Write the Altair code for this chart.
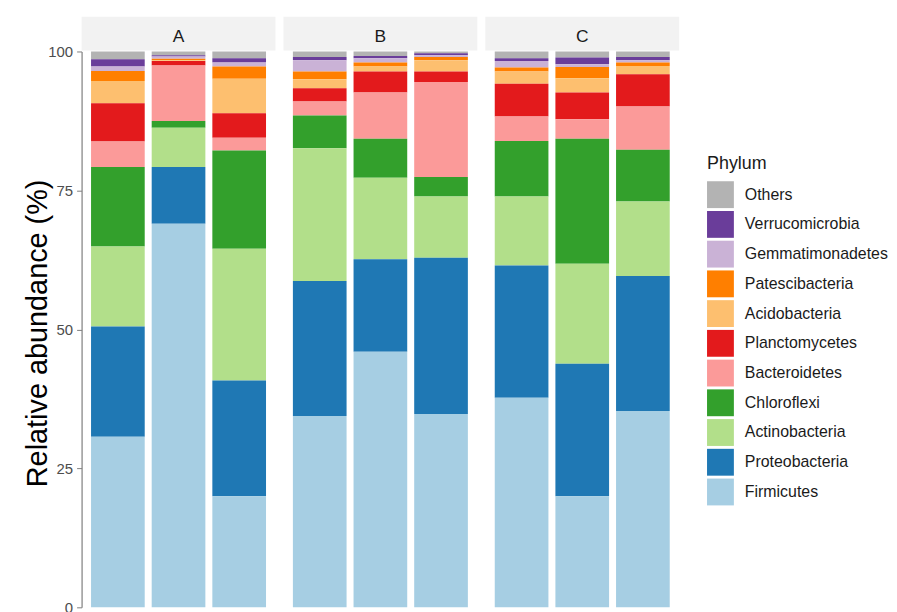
import altair as alt
import pandas as pd

groups = ["A", "A", "A", "B", "B", "B", "C", "C", "C"]
samples = ["1", "2", "3", "1", "2", "3", "1", "2", "3"]

phyla = ["Others", "Verrucomicrobia", "Gemmatimonadetes", "Patescibacteria",
         "Acidobacteria", "Planctomycetes", "Bacteroidetes", "Chloroflexi",
         "Actinobacteria", "Proteobacteria", "Firmicutes"]
colors = ["#B3B3B3", "#6A3D9A", "#CAB2D6", "#FF7F00", "#FDBF6F", "#E31A1C",
          "#FB9A99", "#33A02C", "#B2DF8A", "#1F78B4", "#A6CEE3"]

firmicutes       = [30.7, 69.0, 20.0, 34.4, 46.0, 34.8, 37.7, 20.0, 35.3]
proteobacteria   = [19.8, 10.2, 20.8, 24.3, 16.6, 28.1, 23.8, 23.8, 24.3]
actinobacteria   = [14.4,  7.1, 23.7, 23.9, 14.7, 11.0, 12.4, 18.0, 13.4]
chloroflexi      = [14.3,  1.2, 17.7,  5.9,  7.0,  3.5, 10.0, 22.5,  9.3]
bacteroidetes    = [ 4.6, 10.0,  2.3,  2.5,  8.3, 17.1,  4.4,  3.5,  7.8]
planctomycetes   = [ 6.9,  0.8,  4.4,  2.4,  3.8,  1.9,  5.9,  4.8,  5.8]
acidobacteria    = [ 4.0,  0.1,  6.2,  1.6,  0.9,  2.0,  2.2,  2.6,  1.5]
patescibacteria  = [ 1.8,  0.3,  2.2,  1.4,  0.7,  0.6,  0.7,  2.0,  0.6]
gemmatimonadetes = [ 0.8,  0.4,  0.7,  2.0,  0.8,  0.3,  1.2,  0.5,  0.4]
verrucomicrobia  = [ 1.3,  0.2,  0.8,  0.6,  0.4,  0.4,  0.5,  1.2,  0.6]
others           = [ 1.4,  0.7,  1.2,  1.0,  0.8,  0.3,  1.2,  1.1,  1.0]

series = {
    "Others": others,
    "Verrucomicrobia": verrucomicrobia,
    "Gemmatimonadetes": gemmatimonadetes,
    "Patescibacteria": patescibacteria,
    "Acidobacteria": acidobacteria,
    "Planctomycetes": planctomycetes,
    "Bacteroidetes": bacteroidetes,
    "Chloroflexi": chloroflexi,
    "Actinobacteria": actinobacteria,
    "Proteobacteria": proteobacteria,
    "Firmicutes": firmicutes,
}

rows = []
for k, name in enumerate(phyla):
    for i in range(len(groups)):
        rows.append({
            "group": groups[i],
            "sample": samples[i],
            "phylum": name,
            "abundance": series[name][i],
            "stack_rank": len(phyla) - 1 - k,
        })
df = pd.DataFrame(rows)

FONT = "Liberation Sans"
PW = 195
PH = 559

bars = alt.Chart().mark_bar().encode(
    x=alt.X("sample:N", axis=None,
            scale=alt.Scale(paddingInner=0.115, paddingOuter=0.156)),
    y=alt.Y("abundance:Q", stack="zero",
            scale=alt.Scale(domain=[0, 100], nice=False),
            axis=alt.Axis(values=[0, 25, 50, 75, 100], grid=False,
                          title="Relative abundance (%)",
                          titleFontSize=29, titleFontWeight="normal",
                          titleColor="#000000", titleFont=FONT,
                          titleX=-35, titleY=283, titleBaseline="alphabetic",
                          titleAlign="center", titleAngle=270,
                          labelFont=FONT, labelFontSize=15,
                          labelColor="#4D4D4D", labelPadding=4,
                          tickSize=5, tickColor="#7F7F7F",
                          domainColor="#7F7F7F", domainWidth=1.2)),
    color=alt.Color("phylum:N",
                    scale=alt.Scale(domain=phyla, range=colors),
                    legend=alt.Legend(title="Phylum", orient="none",
                                      legendX=629, legendY=104,
                                      symbolType="square", symbolSize=729,
                                      symbolStrokeWidth=0, symbolOpacity=1,
                                      rowPadding=2.9, labelOffset=11,
                                      titleFont=FONT, titleFontSize=18,
                                      titleFontWeight="normal",
                                      titleColor="#1A1A1A", titlePadding=8.5,
                                      labelFont=FONT, labelFontSize=16,
                                      labelColor="#1A1A1A", labelLimit=300,
                                      padding=0)),
    order=alt.Order("stack_rank:Q", sort="ascending"),
)

strip = alt.Chart().transform_aggregate(
    n="count()", groupby=["group"]
).mark_rect(color="#F2F2F2").encode(
    x=alt.value(0), x2=alt.value(PW),
    y=alt.value(-35), y2=alt.value(-1),
)

label = alt.Chart().transform_aggregate(
    n="count()", groupby=["group"]
).mark_text(font=FONT, fontSize=17.5, color="#1A1A1A",
            align="center", baseline="alphabetic").encode(
    x=alt.value(PW / 2), y=alt.value(-10),
    text="group:N",
)

chart = alt.layer(bars, strip, label, data=df).properties(
    width=PW, height=PH
).facet(
    column=alt.Column("group:N", title=None, header=alt.Header(labels=False)),
    spacing=8,
).configure_view(
    strokeWidth=0
).properties(
    padding={"left": 16, "top": 7, "right": 0, "bottom": 0}
)

chart.save("out.html", embed_options={"renderer": "svg", "actions": False})
